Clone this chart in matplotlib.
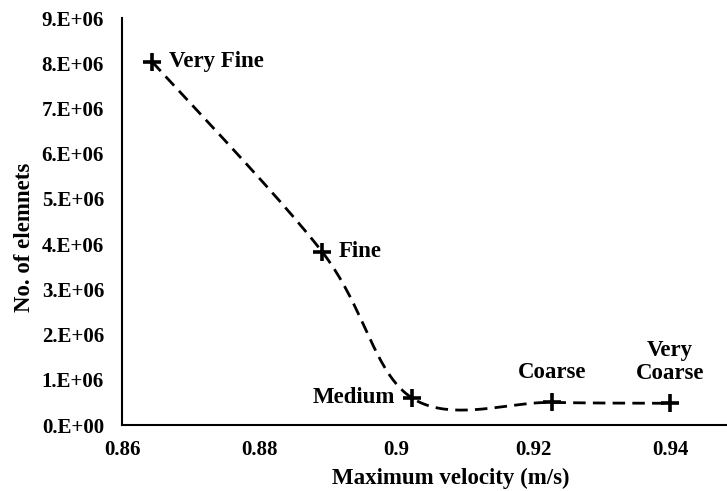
import numpy as np
import matplotlib
matplotlib.use("Agg")
from matplotlib import pyplot as plt
from matplotlib.ticker import FixedLocator

plt.rcParams["font.family"] = ["Liberation Serif", "DejaVu Serif"]
plt.rcParams["font.weight"] = "bold"

# mesh study: peak velocity vs. element count
mesh_names = ["Very Fine", "Fine", "Medium", "Coarse", "Very\nCoarse"]
max_velocity = [0.8644, 0.8892, 0.9023, 0.9228, 0.9400]
n_elements = [8.03e6, 3.83e6, 0.60e6, 0.50e6, 0.48e6]

x_ticks = [0.86, 0.88, 0.90, 0.92, 0.94]
x_tick_labels = ["0.86", "0.88", "0.9", "0.92", "0.94"]
y_ticks = [i * 1e6 for i in range(10)]
y_tick_labels = ["%d.E+0%d" % (i, 6 if i else 0) for i in range(10)]


def smooth_curve(x, y, n=40):
    # spreadsheet-style smoothed line: cubic Bezier with Catmull-Rom handles
    p = np.column_stack([x, y])
    out = [p[0]]
    for i in range(len(p) - 1):
        p0 = p[i - 1] if i > 0 else p[i]
        p3 = p[i + 2] if i + 2 < len(p) else p[i + 1]
        c1 = p[i] + (p[i + 1] - p0) / 6
        c2 = p[i + 1] - (p3 - p[i]) / 6
        t = np.linspace(0, 1, n)[1:, None]
        seg = ((1 - t) ** 3 * p[i] + 3 * (1 - t) ** 2 * t * c1
               + 3 * (1 - t) * t ** 2 * c2 + t ** 3 * p[i + 1])
        out.extend(seg)
    out = np.array(out)
    return out[:, 0], out[:, 1]


fig = plt.figure(figsize=(7.27, 4.91), dpi=100)
ax = fig.add_axes([0.168, 0.1344, 0.832, 0.8289])

sx, sy = smooth_curve(max_velocity, n_elements)
ax.plot(sx, sy, color="black", lw=2.0, dashes=(4.5, 2.6))
ax.plot(max_velocity, n_elements, ls="none", marker="+", ms=13, mew=2.6,
        color="black")

tick_fs = 15
label_fs = 16.5
offsets = [(12, 0, "left", "center"), (12, 0, "left", "center"),
           (-12, 0, "right", "center"), (0, 14, "center", "bottom"),
           (0, 14, "center", "bottom")]
for name, xv, yv, (dx, dy, ha, va) in zip(mesh_names, max_velocity,
                                          n_elements, offsets):
    ax.annotate(name, (xv, yv), xytext=(dx, dy), textcoords="offset points",
                ha=ha, va=va, fontsize=label_fs, fontweight="bold",
                multialignment="center", linespacing=1.1)

ax.set_xlim(0.86, 0.9483)
ax.set_ylim(0, 9e6)
ax.xaxis.set_major_locator(FixedLocator(x_ticks))
ax.set_xticklabels(x_tick_labels)
ax.yaxis.set_major_locator(FixedLocator(y_ticks))
ax.set_yticklabels(y_tick_labels)
ax.tick_params(length=0, labelsize=tick_fs)
ax.tick_params(axis="y", pad=13)
ax.tick_params(axis="x", pad=11)

for side in ["top", "right"]:
    ax.spines[side].set_visible(False)
for side in ["left", "bottom"]:
    ax.spines[side].set_linewidth(1.5)

ax.set_xlabel("Maximum velocity (m/s)", fontsize=label_fs, fontweight="bold")
ax.set_ylabel("No. of elemnets", fontsize=label_fs, fontweight="bold")
ax.xaxis.set_label_coords(0.544, -0.105)
ax.yaxis.set_label_coords(-0.144, 0.462)

fig.savefig("out.png", dpi=100)
